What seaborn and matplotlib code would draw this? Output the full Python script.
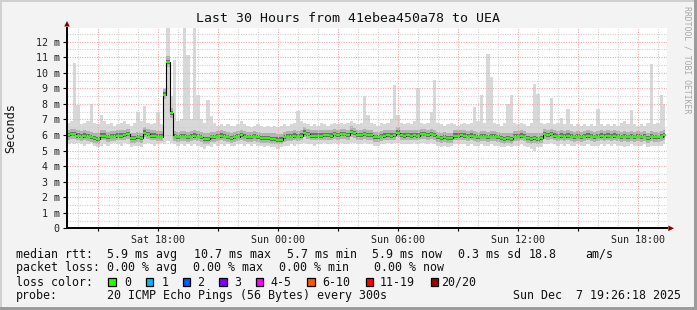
import numpy as np
import pandas as pd
import matplotlib
matplotlib.use("Agg")
import matplotlib.pyplot as plt
import matplotlib.dates as mdates
import seaborn as sns
from matplotlib.patches import Rectangle, Polygon
from matplotlib.ticker import MultipleLocator, FuncFormatter

# ---------------- data ----------------
TITLE = "Last 30 Hours from 41ebea450a78 to UEA"
Y_LABEL = "Seconds"
VIEW_START = "2025-12-06 13:26:18"
VIEW_END = "2025-12-07 19:26:18"
FIRST_SAMPLE = "2025-12-06 13:30"
SAMPLE_FREQ = "10min"

# median RTT in ms (10-minute samples)
median_ms = [
    6.0, 6.05, 6.05, 5.95, 5.9, 5.95, 5.9, 5.85, 5.8, 5.75,
    5.95, 5.95, 5.85, 5.9, 5.9, 5.95, 5.95, 6.0, 6.05, 5.8,
    5.8, 5.85, 5.8, 6.15, 6.05, 5.95, 5.95, 5.9, 5.9, 8.6,
    10.7, 7.4, 5.9, 5.85, 5.9, 5.9, 5.85, 5.9, 5.95, 5.9,
    5.85, 5.75, 5.75, 5.85, 5.85, 5.9, 5.95, 5.9, 5.85, 5.8,
    5.85, 5.9, 6.0, 5.9, 5.85, 5.85, 5.9, 5.85, 5.8, 5.8,
    5.8, 5.75, 5.75, 5.7, 5.7, 5.85, 5.9, 5.9, 5.95, 5.9,
    5.95, 6.15, 6.05, 5.95, 5.95, 5.95, 5.95, 6.0, 6.0, 5.95,
    6.05, 6.0, 6.05, 6.05, 6.0, 6.2, 6.1, 6.0, 6.0, 6.05,
    6.0, 6.0, 5.85, 5.85, 5.9, 5.95, 6.0, 5.95, 6.0, 6.15,
    6.0, 5.95, 6.0, 5.95, 6.0, 5.95, 6.05, 6.05, 6.0, 6.05,
    6.0, 5.85, 5.8, 5.85, 5.8, 5.8, 5.95, 5.95, 6.0, 5.95,
    5.9, 5.95, 5.9, 5.85, 5.9, 5.9, 5.85, 5.9, 5.9, 5.85,
    5.8, 5.75, 5.8, 5.75, 5.9, 5.9, 5.95, 5.9, 5.8, 5.75,
    5.8, 5.75, 5.8, 6.05, 6.0, 6.05, 5.95, 5.9, 5.95, 5.9,
    5.95, 5.9, 5.85, 5.9, 5.85, 5.9, 5.95, 5.9, 5.85, 5.9,
    5.95, 5.9, 5.95, 5.9, 5.95, 5.9, 5.85, 5.9, 5.85, 5.9,
    5.85, 5.9, 5.85, 5.9, 5.8, 5.9, 5.85, 5.85, 5.9, 6.0,
]

# slowest ping per sample (top of smoke), ms
max_ms = [
    6.8, 6.9, 10.6, 7.9, 6.7, 6.8, 6.9, 8.0, 6.8, 6.7,
    7.3, 6.9, 6.7, 6.8, 6.6, 6.7, 6.8, 6.9, 6.7, 6.6,
    6.8, 7.5, 6.9, 7.85, 6.8, 6.7, 6.8, 7.5, 6.7, 9.0,
    12.9, 8.5, 10.8, 6.9, 7.0, 12.9, 11.15, 7.0, 12.9, 8.57,
    7.0, 6.8, 8.25, 7.2, 6.8, 6.6, 6.7, 6.6, 6.7, 6.6,
    6.6, 6.7, 6.9, 6.7, 6.6, 6.5, 6.6, 6.7, 6.6, 6.5,
    6.6, 6.5, 6.6, 6.5, 6.6, 6.7, 6.6, 6.7, 6.8, 7.54,
    6.9, 6.8, 6.7, 6.6, 6.7, 6.6, 6.8, 6.7, 6.6, 6.7,
    6.8, 6.7, 6.8, 6.7, 6.8, 6.9, 6.8, 6.7, 6.8, 8.5,
    7.3, 6.8, 6.7, 6.6, 6.8, 6.7, 6.8, 7.0, 9.2, 7.3,
    6.8, 6.7, 6.8, 6.7, 6.9, 9.0, 6.8, 6.7, 6.8, 7.46,
    9.55, 6.8, 6.7, 6.6, 6.7, 6.8, 6.7, 6.6, 6.7, 6.8,
    6.7, 6.8, 7.8, 6.9, 8.6, 6.8, 11.2, 9.75, 6.8, 6.7,
    6.6, 6.8, 8.0, 8.6, 6.8, 6.7, 6.8, 6.7, 6.6, 6.8,
    9.26, 8.65, 6.8, 6.7, 6.8, 8.4, 6.7, 6.8, 7.1, 6.7,
    7.7, 6.7, 6.6, 6.7, 6.6, 6.7, 6.6, 6.7, 6.6, 7.7,
    6.7, 6.6, 6.7, 6.6, 6.7, 6.6, 6.8, 6.9, 6.7, 7.6,
    6.7, 6.6, 6.7, 6.6, 6.8, 10.55, 6.7, 6.8, 8.57, 8.0,
]

# fastest ping per sample (bottom of smoke), ms
min_ms = [
    5.4, 5.5, 5.4, 5.5, 5.4, 5.3, 5.4, 5.5, 5.3, 5.2,
    5.3, 5.4, 5.3, 5.4, 5.5, 5.4, 5.3, 5.5, 5.4, 5.2,
    5.3, 5.3, 5.2, 5.4, 5.5, 5.4, 5.3, 5.4, 5.5, 5.4,
    5.6, 5.5, 5.4, 5.3, 5.4, 5.3, 5.4, 5.3, 5.4, 5.3,
    5.2, 5.1, 5.3, 5.2, 5.4, 5.3, 5.4, 5.3, 5.4, 5.3,
    5.3, 5.4, 5.4, 5.3, 5.4, 5.3, 5.4, 5.3, 5.3, 5.2,
    5.3, 5.2, 5.2, 5.1, 5.2, 5.3, 5.3, 5.4, 5.3, 5.4,
    5.4, 5.5, 5.4, 5.4, 5.3, 5.4, 5.4, 5.5, 5.4, 5.4,
    5.5, 5.4, 5.5, 5.4, 5.4, 5.5, 5.5, 5.4, 5.4, 5.5,
    5.4, 5.4, 5.3, 5.3, 5.4, 5.4, 5.5, 5.4, 5.5, 5.5,
    5.4, 5.4, 5.4, 5.4, 5.5, 5.4, 5.5, 5.5, 5.4, 5.5,
    5.4, 5.3, 5.2, 5.3, 5.2, 5.3, 5.4, 5.4, 5.4, 5.4,
    5.3, 5.4, 5.3, 5.3, 5.4, 5.3, 5.3, 5.4, 5.3, 5.3,
    5.2, 5.2, 5.3, 5.2, 5.3, 5.3, 5.4, 5.3, 5.2, 5.1,
    5.0, 5.2, 5.2, 5.4, 5.4, 5.5, 5.4, 5.3, 5.4, 5.3,
    5.4, 5.3, 5.3, 5.4, 5.3, 5.3, 5.4, 5.3, 5.3, 5.3,
    5.4, 5.3, 5.4, 5.3, 5.4, 5.3, 5.3, 5.2, 5.3, 5.4,
    5.3, 5.3, 5.3, 5.4, 5.2, 5.3, 5.3, 5.3, 5.3, 5.4,
]

Y_MAX = 12.9

LEGEND_ROWS = [
    ("median rtt:", ["5.9 ms avg", "10.7 ms max", "5.7 ms min", "5.9 ms now",
                     "0.3 ms sd", "18.8", "am/s"]),
    ("packet loss:", ["0.00 % avg", "0.00 % max", "0.00 % min", "0.00 % now"]),
]
loss_labels = ["0", "1", "2", "3", "4-5", "6-10", "11-19", "20/20"]
loss_colors = ["#26ff00", "#00b8ff", "#0059ff", "#7e00ff", "#ff00ff",
               "#ff5500", "#ff0000", "#a10000"]
PROBE_LABEL = "probe:"
PROBE_TEXT = "20 ICMP Echo Pings (56 Bytes) every 300s"
STAMP = "Sun Dec  7 19:26:18 2025"
WATERMARK = "RRDTOOL / TOBI OETIKER"

# ---------------- style ----------------
sns.set_theme(style="white")
plt.rcParams["font.family"] = ["DejaVu Sans Mono"]

W, H = 697, 310
BG = "#f3f3f3"
fig = plt.figure(figsize=(W / 100, H / 100), dpi=100, facecolor=BG)


def fx(px):
    return px / W


def fy(py):
    return 1 - py / H


X0, X1, Y0, Y1 = 66.7, 666.7, 228.3, 27.7
ax = fig.add_axes([fx(X0), fy(Y0), (X1 - X0) / W, (Y0 - Y1) / H])
ax.set_facecolor("white")

times = pd.date_range(FIRST_SAMPLE, periods=len(median_ms), freq=SAMPLE_FREQ)
t = mdates.date2num(times.to_pydatetime())
half = (t[1] - t[0]) / 2
med = np.array(median_ms)
df = pd.DataFrame({"t": t, "median": med})

# smoke
ax.fill_between(t, min_ms, max_ms, step="mid", color="#d8d8d8", lw=0, zorder=1)
ax.fill_between(t, med - 0.3, med + 0.35, step="mid", color="#b2b2b2", lw=0, zorder=1.1)
ax.fill_between(t, med - 0.12, med + 0.15, step="mid", color="#6e6e6e", lw=0, zorder=1.2)

# median line: black step transitions + green loss-colour segments
sns.lineplot(data=df, x="t", y="median", ax=ax, drawstyle="steps-mid",
             color="black", lw=0.8, estimator=None, zorder=3)
ax.hlines(med, t - half, t + half, colors=loss_colors[0], lw=1.5, zorder=4)

# axes ranges
ax.set_xlim(mdates.date2num(pd.Timestamp(VIEW_START)), mdates.date2num(pd.Timestamp(VIEW_END)))
ax.set_ylim(0, Y_MAX)
ax.set_xlabel("")
ax.set_ylabel("")

# grid
ax.xaxis.set_major_locator(mdates.HourLocator(byhour=range(0, 24, 3)))
ax.xaxis.set_minor_locator(mdates.HourLocator())


def xfmt(v, pos):
    d = mdates.num2date(v)
    return d.strftime("%a %H:%M") if d.hour % 6 == 0 else ""


ax.xaxis.set_major_formatter(FuncFormatter(xfmt))
ax.yaxis.set_major_locator(MultipleLocator(1))
ax.yaxis.set_minor_locator(MultipleLocator(0.5))
ax.yaxis.set_major_formatter(FuncFormatter(lambda v, p: "0" if v == 0 else f"{int(round(v))} m"))

ax.set_axisbelow(False)
ax.grid(which="minor", color="#d2d2d2", lw=0.8, ls=(0, (1, 1.2)))
ax.grid(which="major", color="#eeaaaa", lw=0.8, ls=(0, (1, 1.2)))
for gl in ax.get_xgridlines() + ax.get_ygridlines():
    gl.set_zorder(2)

ax.tick_params(axis="y", which="major", length=3, width=0.8, color="black",
               labelsize=7.2, pad=2, left=True)
ax.tick_params(axis="y", which="minor", length=0)
ax.tick_params(axis="x", which="major", length=2, width=0.8, color="black",
               labelsize=7.2, pad=3, bottom=True)
ax.tick_params(axis="x", which="minor", length=0)
for lbl in ax.get_xticklabels() + ax.get_yticklabels():
    lbl.set_color("#202020")

for s in ["top", "right"]:
    ax.spines[s].set_visible(False)
for s in ["left", "bottom"]:
    ax.spines[s].set_color("black")
    ax.spines[s].set_linewidth(1.4)
    ax.spines[s].set_zorder(5)

# arrows at axis ends
AR = "#7f0000"
fig.add_artist(Polygon([[fx(67), fy(21.0)], [fx(64.2), fy(26.5)], [fx(69.8), fy(26.5)]],
                       closed=True, transform=fig.transFigure, color=AR, lw=0))
fig.add_artist(Polygon([[fx(674), fy(228.3)], [fx(668.3), fy(225.5)], [fx(668.3), fy(231.1)]],
                       closed=True, transform=fig.transFigure, color=AR, lw=0))

# titles
fig.text(fx(348.5), fy(18), TITLE, ha="center", va="center", fontsize=9.5, color="#101010")
fig.text(fx(10.5), fy(128), Y_LABEL, ha="center", va="center", rotation=90,
         fontsize=8.6, color="#101010")
fig.text(fx(687.5), fy(60), WATERMARK, ha="center", va="center", rotation=-90,
         fontsize=5.9, color="#a8a8a8")

# legend rows
FS = 8.4
row_y = [254.3, 267.7, 282.3, 295.7]
col_x = {
    0: [107.3, 194.0, 286.7, 372.3, 458.0, 529.0, 585.7],
    1: [107.3, 193.3, 279.3, 374.3],
}
for r, (head, items) in enumerate(LEGEND_ROWS):
    fig.text(fx(16), fy(row_y[r]), head, ha="left", va="center", fontsize=FS, color="#101010")
    for xp, s in zip(col_x[r], items):
        fig.text(fx(xp), fy(row_y[r]), s, ha="left", va="center", fontsize=FS, color="#101010")

fig.text(fx(16), fy(row_y[2]), "loss color:", ha="left", va="center", fontsize=FS, color="#101010")
box_x = [108.3, 145.7, 182.7, 219.3, 256.0, 307.3, 365.7, 430.7]
lab_x = [124.0, 161.7, 197.3, 234.3, 270.7, 322.7, 380.0, 441.0]
for bx, lx, lab, col in zip(box_x, lab_x, loss_labels, loss_colors):
    fig.add_artist(Rectangle((fx(bx), fy(286.0)), 7.4 / W, 7.7 / H, transform=fig.transFigure,
                             facecolor=col, edgecolor="black", lw=0.9))
    fig.text(fx(lx), fy(row_y[2]), lab, ha="left", va="center", fontsize=FS, color="#101010")

fig.text(fx(16), fy(row_y[3]), PROBE_LABEL, ha="left", va="center", fontsize=FS, color="#101010")
fig.text(fx(107.3), fy(row_y[3]), PROBE_TEXT, ha="left", va="center", fontsize=FS, color="#101010")
fig.text(fx(513.3), fy(row_y[3]), STAMP, ha="left", va="center", fontsize=FS, color="#101010")

# frame borders
fig.add_artist(Rectangle((0, 1 - 2 / H), 1, 2 / H, transform=fig.transFigure, color="#d0d0d0", lw=0))
fig.add_artist(Rectangle((0, 0), 2 / W, 1, transform=fig.transFigure, color="#d0d0d0", lw=0))
fig.add_artist(Rectangle((0, 0), 1, 3 / H, transform=fig.transFigure, color="#9c9c9c", lw=0))
fig.add_artist(Rectangle((1 - 3 / W, 0), 3 / W, 1, transform=fig.transFigure, color="#9c9c9c", lw=0))

fig.savefig("out.png", dpi=100, facecolor=BG)
